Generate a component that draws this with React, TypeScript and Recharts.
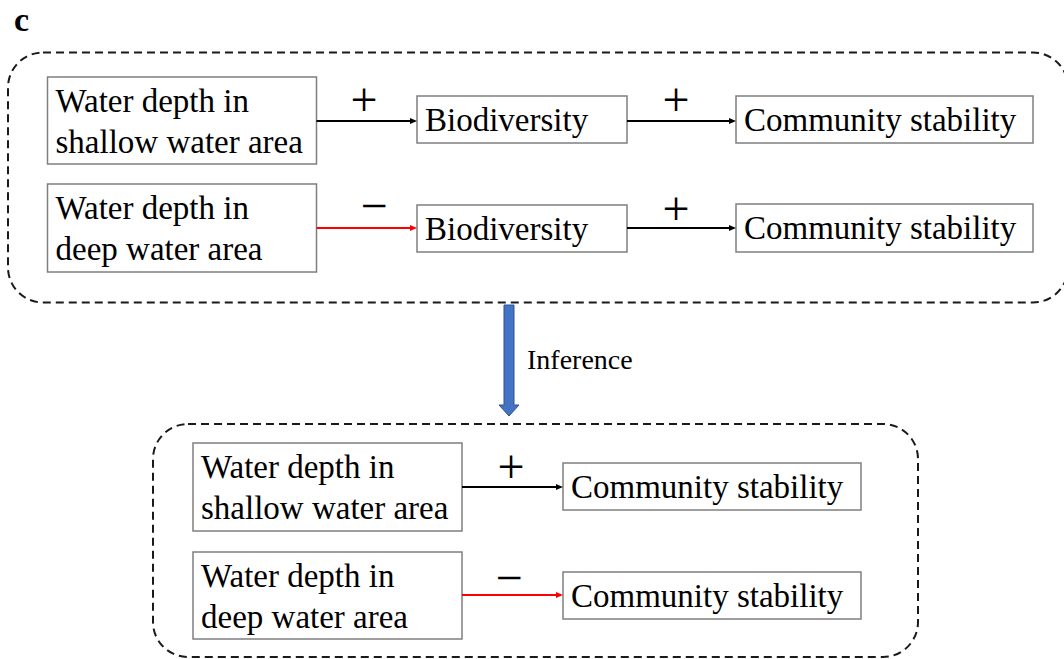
import React from 'react';
import { ScatterChart, XAxis, YAxis, ReferenceArea, ReferenceLine } from 'recharts';

// ---- content (text data) ----
const panelLabel = ['c'];
const sourceLabels = [
  ['Water depth in', 'shallow water area'],
  ['Water depth in', 'deep water area'],
];
const mediatorLabels = ['Biodiversity', 'Biodiversity'];
const outcomeLabels = ['Community stability', 'Community stability'];
const signsToMediator = ['+', '\u2212'];
const signsToOutcome = ['+', '+'];
const inferredSigns = ['+', '\u2212'];
const inferenceLabel = ['Inference'];

// ---- layout (diagram units = pixels of the 1064x659 canvas) ----
const W = 1064;
const H = 659;
const topPanel = { x1: 8, x2: 1068, y1: 52.5, y2: 302.5 };
const bottomPanel = { x1: 153, x2: 918, y1: 424, y2: 657 };
const topRows = [
  { src: [47.5, 316.5, 77, 164], med: [417, 627, 96, 143], out: [736, 1033, 96, 143], y: 121, s1: [364, 104], s2: [676, 104] },
  { src: [47.5, 316.5, 184, 272], med: [417, 627, 205, 252], out: [736, 1033, 204, 252], y: 228, s1: [374, 210], s2: [676, 213] },
];
const bottomRows = [
  { src: [193, 462, 443, 531], out: [563, 861, 463, 510], y: 487, s: [511, 471] },
  { src: [193, 462, 552, 639], out: [563, 861, 572, 619], y: 595, s: [509, 582] },
];
const inferenceArrow = { x1: 499, x2: 519, y1: 305, y2: 416 };
const inferenceText = { x1: 527, x2: 635, y1: 350, y2: 369 };
const labelBox = { x1: 14, x2: 34, y1: 11, y2: 31 };

// ---- styles ----
const FONT = '"Liberation Serif", "Times New Roman", serif';
const BOX_STROKE = '#7f7f7f';
const signColor = (s: string) => (s === '+' ? '#000000' : '#ff0000');

const boxShape = (lines: string[]) => (p: any) => (
  <g>
    <rect x={p.x} y={p.y} width={p.width} height={p.height} fill="#ffffff" stroke={BOX_STROKE} strokeWidth={1.5} />
    {lines.map((t, i) => (
      <text key={i} x={p.x + 8} y={p.y + 35 + i * 41} fontSize={33} fontFamily={FONT} fill="#000">
        {t}
      </text>
    ))}
  </g>
);

const panelShape = (p: any) => (
  <rect x={p.x} y={p.y} width={p.width} height={p.height} rx={35} ry={35} fill="none" stroke="#1a1a1a" strokeWidth={2} strokeDasharray="8 5" />
);

const arrowShape = (color: string) => (p: any) => {
  const { x1, y1, x2, y2 } = p;
  const head = 7;
  return (
    <g>
      <line x1={x1} y1={y1} x2={x2 - head + 1} y2={y2} stroke={color} strokeWidth={2} />
      <polygon points={`${x2},${y2} ${x2 - head},${y2 - 3} ${x2 - head},${y2 + 3}`} fill={color} />
    </g>
  );
};

const signShape = (sign: string) => (p: any) => (
  <text x={p.x + p.width / 2} y={p.y + p.height / 2 + 12} textAnchor="middle" fontSize={48} fontFamily={FONT} fill="#000">
    {sign}
  </text>
);

const textShape = (t: string, size: number, bold: boolean) => (p: any) => (
  <text x={p.x} y={p.y + p.height} fontSize={size} fontWeight={bold ? 'bold' : 'normal'} fontFamily={FONT} fill="#000">
    {t}
  </text>
);

const blueArrowShape = (p: any) => {
  const cx = p.x + p.width / 2;
  const top = p.y;
  const bottom = p.y + p.height;
  const headH = 11;
  const pts = [
    [cx - 5, top],
    [cx + 5, top],
    [cx + 5, bottom - headH],
    [p.x + p.width, bottom - headH],
    [cx, bottom],
    [p.x, bottom - headH],
    [cx - 5, bottom - headH],
  ]
    .map((q) => q.join(','))
    .join(' ');
  return <polygon points={pts} fill="#4472c4" stroke="#2f528f" strokeWidth={1} />;
};

const area = (key: string, r: number[], shape: any) => (
  <ReferenceArea key={key} x1={r[0]} x2={r[1]} y1={r[2]} y2={r[3]} ifOverflow="visible" shape={shape} />
);

const signArea = (key: string, c: number[], sign: string) => (
  <ReferenceArea key={key} x1={c[0] - 15} x2={c[0] + 15} y1={c[1] - 15} y2={c[1] + 15} ifOverflow="visible" shape={signShape(sign)} />
);

const arrow = (key: string, xa: number, xb: number, y: number, color: string) => (
  <ReferenceLine key={key} segment={[{ x: xa, y }, { x: xb, y }]} ifOverflow="visible" shape={arrowShape(color)} />
);

export default function App() {
  const els: any[] = [];
  els.push(
    <ReferenceArea key="tp" x1={topPanel.x1} x2={topPanel.x2} y1={topPanel.y1} y2={topPanel.y2} ifOverflow="visible" shape={panelShape} />
  );
  els.push(
    <ReferenceArea key="bp" x1={bottomPanel.x1} x2={bottomPanel.x2} y1={bottomPanel.y1} y2={bottomPanel.y2} ifOverflow="visible" shape={panelShape} />
  );
  els.push(
    <ReferenceArea key="lbl" x1={labelBox.x1} x2={labelBox.x2} y1={labelBox.y1} y2={labelBox.y2} ifOverflow="visible" shape={textShape(panelLabel[0], 34, true)} />
  );
  topRows.forEach((r, i) => {
    els.push(arrow(`ta1${i}`, r.src[1], r.med[0], r.y, signColor(signsToMediator[i])));
    els.push(arrow(`ta2${i}`, r.med[1], r.out[0], r.y, signColor(signsToOutcome[i])));
    els.push(area(`ts${i}`, r.src, boxShape(sourceLabels[i])));
    els.push(area(`tm${i}`, r.med, boxShape([mediatorLabels[i]])));
    els.push(area(`to${i}`, r.out, boxShape([outcomeLabels[i]])));
    els.push(signArea(`tg1${i}`, r.s1, signsToMediator[i]));
    els.push(signArea(`tg2${i}`, r.s2, signsToOutcome[i]));
  });
  els.push(
    <ReferenceArea key="inf" x1={inferenceArrow.x1} x2={inferenceArrow.x2} y1={inferenceArrow.y1} y2={inferenceArrow.y2} ifOverflow="visible" shape={blueArrowShape} />
  );
  els.push(
    <ReferenceArea key="inft" x1={inferenceText.x1} x2={inferenceText.x2} y1={inferenceText.y1} y2={inferenceText.y2} ifOverflow="visible" shape={textShape(inferenceLabel[0], 28, false)} />
  );
  bottomRows.forEach((r, i) => {
    els.push(arrow(`ba${i}`, r.src[1], r.out[0], r.y, signColor(inferredSigns[i])));
    els.push(area(`bs${i}`, r.src, boxShape(sourceLabels[i])));
    els.push(area(`bo${i}`, r.out, boxShape([outcomeLabels[i]])));
    els.push(signArea(`bg${i}`, r.s, inferredSigns[i]));
  });

  return (
    <div style={{ width: W, height: H, background: '#ffffff' }}>
      <style>{'body{margin:0;background:#ffffff;}'}</style>
      <ScatterChart width={W} height={H} margin={{ top: 0, right: 0, bottom: 0, left: 0 }}>
        <XAxis type="number" dataKey="x" domain={[0, W]} hide allowDataOverflow />
        <YAxis type="number" dataKey="y" domain={[0, H]} reversed hide allowDataOverflow />
        {els}
      </ScatterChart>
    </div>
  );
}
